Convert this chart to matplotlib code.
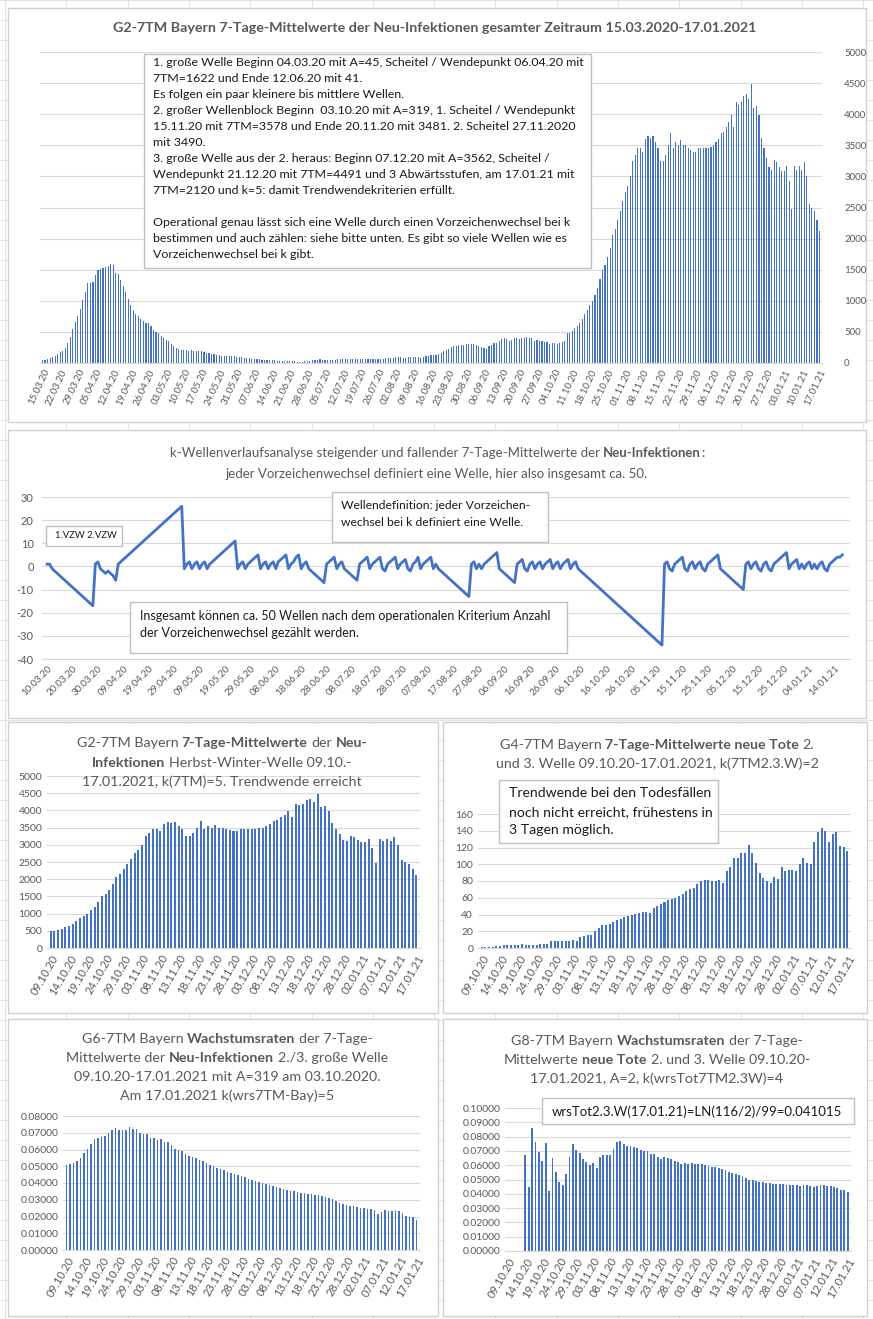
import numpy as np
import pandas as pd
import matplotlib
matplotlib.use('Agg')
import matplotlib.pyplot as plt
from matplotlib.patches import Rectangle
from matplotlib.lines import Line2D

# ---------------- Daten (aus dem Bild geschaetzt) ----------------
# 7-Tage-Mittelwerte Neu-Infektionen Bayern 15.03.2020 - 08.10.2020
neu_fruehjahr_sommer = [
    45, 55, 65, 80, 95, 115, 140, 170, 200, 240,
    320, 410, 550, 660, 750, 875, 1010, 1145, 1290, 1280,
    1305, 1410, 1490, 1515, 1530, 1550, 1560, 1597, 1570, 1450,
    1425, 1333, 1237, 1140, 1032, 940, 860, 795, 763, 700,
    672, 645, 645, 590, 538, 495, 484, 430, 403, 376,
    350, 300, 270, 240, 220, 215, 210, 205, 200, 205,
    200, 195, 190, 185, 170, 165, 160, 150, 140, 130,
    125, 120, 115, 110, 112, 110, 105, 100, 95, 92,
    88, 85, 80, 72, 68, 65, 60, 55, 50, 45,
    44, 42, 41, 40, 38, 35, 33, 30, 28, 27,
    25, 22, 18,
    15, 28, 39, 40, 42, 44, 56, 58, 45, 44,
    44, 46, 47, 48, 58, 58, 59, 60, 60, 61,
    62, 62, 63, 63, 64, 64, 65, 65, 66, 66,
    67, 68, 72, 83, 84, 85, 86, 100, 101, 102,
    75, 88, 90, 92, 100, 95, 93, 80, 100, 111,
    112, 122, 133, 135, 150, 167, 195, 211, 233, 261,
    278, 280, 289, 290, 292, 306, 307, 308, 306, 289,
    278, 261, 240, 233, 267, 289, 322, 325, 361, 378,
    400, 378, 361, 370, 400, 406, 389, 400, 402, 417,
    406, 400, 361, 362, 360, 358, 333, 330, 306, 317,
    319, 306, 317, 344, 361,
]
# 09.10.2020 - 17.01.2021
neu_herbst = [
    480, 490, 520, 560, 600, 650, 700, 780, 860, 930,
    1000, 1100, 1200, 1350, 1500, 1570, 1700, 1850, 2050, 2150,
    2300, 2450, 2600, 2750, 2850,
    3000, 3250, 3350, 3450, 3450, 3400, 3600, 3650, 3620, 3650,
    3550, 3450, 3250, 3250, 3350, 3500, 3700, 3450, 3550, 3500,
    3580, 3500, 3500, 3450, 3420, 3400, 3400, 3450, 3450, 3450,
    3460, 3450, 3480, 3500, 3550, 3600, 3700, 3720, 3800, 3870,
    3980, 3800, 4200, 4150, 4200, 4300, 4330, 4250, 4491,
    4100, 4130, 3980, 3620, 3450, 3300, 3150, 3100, 3270, 3230,
    3150, 3080, 3080, 3170, 2920, 2480, 3170, 3100, 3170, 3100,
    3230, 3000, 2550, 2500, 2450, 2300, 2120,
]
tote_herbst = [
    1.3, 1.3, 1.3, 1.3, 2, 2.5, 3, 3.5, 3.5, 3.5,
    3.5, 4.5, 4, 4, 3.5, 4, 4.5, 4.5, 5, 8,
    8, 8, 8, 8, 8, 9, 8.5, 13, 14, 15,
    16, 20, 24, 28, 28, 29, 31, 33, 35, 37,
    38, 40, 41, 42, 43, 43, 42,
    48, 50, 52, 55, 57, 58, 60, 62, 65, 68, 70, 72, 76, 80,
    81, 81, 80, 80, 81, 78, 92, 97, 108, 107,
    114, 113, 123, 114, 102, 90, 83, 80, 78, 85,
    82, 97, 92, 93, 93, 92, 100, 108, 101, 100,
    126, 138, 143, 140, 126, 136, 138, 122, 121, 116,
]
wrs_neu_herbst = [
    0.0510, 0.0512, 0.0520, 0.0530, 0.0550,
    0.0579, 0.0603, 0.0634, 0.0661, 0.0667, 0.0673, 0.0682, 0.0700, 0.0714, 0.0731,
    0.0718, 0.0716, 0.0714, 0.0737, 0.0724, 0.0724, 0.0700, 0.0690, 0.0690, 0.0667,
    0.0667, 0.0657, 0.0660, 0.0646, 0.0642, 0.0625, 0.0604, 0.0600, 0.0594, 0.0573,
    0.0562, 0.0556,
    0.0550, 0.0540, 0.0530, 0.0520, 0.0510, 0.0500, 0.0490, 0.0482, 0.0475, 0.0468,
    0.0460, 0.0452, 0.0445, 0.0440, 0.0433, 0.0425, 0.0418, 0.0412, 0.0405, 0.0400,
    0.0395, 0.0388, 0.0380, 0.0375, 0.0370, 0.0365, 0.0360, 0.0355, 0.0350, 0.0346,
    0.0342, 0.0338, 0.0335, 0.0332, 0.0330, 0.0327, 0.0323, 0.0318,
    0.0313, 0.0304, 0.0290, 0.0283, 0.0272, 0.0266, 0.0260, 0.0260, 0.0255, 0.0250,
    0.0249, 0.0243, 0.0243, 0.0236, 0.0217, 0.0226, 0.0240, 0.0234, 0.0234, 0.0230,
    0.0234, 0.0220, 0.0204, 0.0200, 0.0200, 0.0180,
]
wrs_tote_herbst = [
    np.nan, np.nan, np.nan, np.nan, np.nan,
    0.0671, 0.0450, 0.0862, 0.0762, 0.0689, 0.0629, 0.0756, 0.0420, 0.0650, 0.0550,
    0.0480, 0.0460, 0.0540, 0.0656, 0.0750, 0.0707, 0.0682, 0.0644, 0.0622, 0.0600,
    0.0616, 0.0580, 0.0660, 0.0669, 0.0669, 0.0671, 0.0716, 0.0762, 0.0771, 0.0750,
    0.0733, 0.0733, 0.0727, 0.0722, 0.0707, 0.0696, 0.0696, 0.0678, 0.0678, 0.0656,
    0.0644, 0.0656, 0.0651, 0.0644, 0.0627, 0.0622, 0.0611, 0.0618, 0.0611, 0.0618,
    0.0611, 0.0607, 0.0607, 0.0600, 0.0596,
    0.0590, 0.0585, 0.0580, 0.0570, 0.0565, 0.0555, 0.0548, 0.0540, 0.0530, 0.0520,
    0.0510, 0.0500, 0.0495, 0.0490, 0.0485, 0.0480, 0.0478, 0.0475, 0.0472, 0.0470,
    0.0468, 0.0466, 0.0465, 0.0463, 0.0462, 0.0460, 0.0458, 0.0460, 0.0462, 0.0455,
    0.0450, 0.0452, 0.0460, 0.0462, 0.0458, 0.0455, 0.0450, 0.0440, 0.0430, 0.0425,
    0.0410,
]
# k-Werte ab 10.03.2020
k_werte = [
    1, 1,
    -1, -2, -3, -4, -5, -6, -7, -8, -9, -10, -11, -12, -13, -14, -15, -16, -17,
    1, 2, -1, -2, -3, -2, -3, -4, -6,
    1, 2, 3, 4, 5, 6, 7, 8, 9, 10, 11, 12, 13, 14, 15, 16, 17, 18, 19, 20,
    21, 22, 23, 24, 25, 26,
    -1, 1, 2, -1, 1, 2, -1, 1, 2, -1,
    1, 2, 3, 4, 5, 6, 7, 8, 9, 10, 11,
    -1, 1, 2, -1, 1, 2, 3, 4, 5,
    -1, 1, 2, -1, 1, 2,
    -1, 2, 3, 4, 5,
    -1, 1, 2, 4, 5,
    -1, 1, 2,
    -1, -2, -3, -4, -5, -6, -7,
    1, 2, 3, 4, -1, 1, 2,
    -1, -2, -3, -4, -5, -6,
    1, 2, 3, 4, -1, 1, 2, 3, 4, -1, -2, 1, 2, 3, 4, -1, 1, 2, 3, -1,
    -2, 1, 2, 4, -1, 1, 2, 3, 4, -1, 1,
    -1, -2, -3, -4, -5, -6, -7, -8, -9, -10, -11, -12, -13,
    1, 2, -1, 1, -1,
    1, 2, 3, 4, 5, 6,
    -1, -2, -3, -4, -5, -6, -7,
    1, 2, 3, -1, -2, 1, 2, -1, 1, 2, -1, 1, 2, 3, -1, 1, 2, -1, 1, 2,
    3, -1, 1, 2,
    -1, -2, -3, -4, -5, -6, -7, -8, -9, -10, -11, -12, -13, -14, -15, -16, -17,
    -18, -19, -20, -21, -22, -23, -24, -25, -26, -27, -28, -29, -30, -31, -32,
    -33, -34,
    1, 2, -1, -2, 1, 2, 3, 4,
    -1, -2, 1, 2, -1, 1, 2, -1, -2, 1, 2, 3, 4, 5,
    -1, -2, -3, -4, -5, -6, -7, -8, -9, -10,
    1, 2, -1, 1, 2, -1, -2, 1, 2, -1, -2, 1, 2, 3, 4, 5, 6,
    -1, 1, 2, 3, -1, 1, -1, 1, 2, -1, 1, -1, 1, 2, -1, -2, 1, 2, 3, 4, 4, 5,
]

neu_gesamt = neu_fruehjahr_sommer + neu_herbst
tage_gesamt = pd.date_range('2020-03-15', periods=len(neu_gesamt)).strftime('%d.%m.%y')
tage_k = pd.date_range('2020-03-10', periods=len(k_werte)).strftime('%d.%m.%y')
tage_herbst = pd.date_range('2020-10-09', periods=len(neu_herbst)).strftime('%d.%m.%y')

# ---------------- Layout ----------------
W, H = 873, 1319
BLAU = '#4472C4'
GRAU = '#595959'
GITTER = '#D9D9D9'
plt.rcParams['font.family'] = ['Lato', 'DejaVu Sans']

fig = plt.figure(figsize=(W / 100, H / 100), dpi=100)
fig.patch.set_facecolor('white')


def achse(l, t, r, b):
    return fig.add_axes([l / W, 1 - b / H, (r - l) / W, (b - t) / H])


def kasten(l, t, r, b, farbe, z, lw=1.0):
    fig.add_artist(Rectangle((l / W, 1 - b / H), (r - l) / W, (b - t) / H,
                             transform=fig.transFigure, facecolor='white',
                             edgecolor=farbe, linewidth=lw, zorder=z))


def text(x, y, s, size, **kw):
    kw.setdefault('color', '#1a1a1a')
    kw.setdefault('va', 'center')
    fig.text(x / W, 1 - y / H, s, fontsize=size, **kw)


renderer = fig.canvas.get_renderer()


def breite(s, size, fw):
    if not s:
        return 0.0
    t1 = fig.text(0, 0, '|' + s + '|', fontsize=size, fontweight=fw)
    t2 = fig.text(0, 0, '||', fontsize=size, fontweight=fw)
    w = t1.get_window_extent(renderer).width - t2.get_window_extent(renderer).width
    t1.remove()
    t2.remove()
    return w


def zeile(cx, y, teile, size, farbe=GRAU):
    # eine zentrierte Titelzeile mit gemischt fett/normal
    stuecke = []
    pos = 0.0
    for s, fett in teile:
        fw = 'bold' if fett else 'normal'
        kern = s.strip(' ')
        vor = len(s) - len(s.lstrip(' '))
        nach = len(s) - len(s.rstrip(' '))
        sp = breite(' ', size, fw)
        stuecke.append((pos + vor * sp, kern, fw))
        pos += vor * sp + breite(kern, size, fw) + nach * sp
    x0 = cx - pos / 2
    for dx, kern, fw in stuecke:
        fig.text((x0 + dx) / W, 1 - y / H, kern, fontsize=size, fontweight=fw,
                 color=farbe, ha='left', va='baseline')


def stil(ax, ymax, step, fmt, size=7.5, ymin=0, pad=3.5):
    ticks = np.arange(ymin, ymax + step / 2, step)
    ax.set_ylim(ymin, ymax)
    ax.set_yticks(ticks)
    ax.set_yticklabels([fmt.format(t) for t in ticks])
    ax.grid(axis='y', color=GITTER, lw=0.8)
    ax.set_axisbelow(True)
    for s in ['top', 'right', 'left']:
        ax.spines[s].set_visible(False)
    ax.spines['bottom'].set_color(GITTER)
    ax.tick_params(length=0, colors=GRAU, labelsize=size)
    ax.tick_params(axis='y', pad=pad)


def xbeschriftung(ax, pos, labels, rot, size):
    ax.set_xticks(pos)
    ax.set_xticklabels(labels, rotation=rot, ha='right', rotation_mode='anchor',
                       fontsize=size, color=GRAU)


# Excel-Tabellengitter im Hintergrund
for i in range(16):
    fig.add_artist(Line2D([(5 + 61.3 * i) / W] * 2, [0, 1], transform=fig.transFigure,
                          color='#E3E3E3', lw=0.8, zorder=-3))
for i in range(67):
    fig.add_artist(Line2D([0, 1], [1 - 20 * i / H] * 2, transform=fig.transFigure,
                          color='#E3E3E3', lw=0.8, zorder=-3))

# Diagrammrahmen
for box in [(8, 8, 866, 422), (8, 430, 866, 718), (8, 722, 438, 1013),
            (443, 722, 867, 1013), (8, 1019, 438, 1316), (443, 1019, 867, 1316)]:
    kasten(*box, farbe='#D0D0D0', z=-1)

# ---------- G2 gesamter Zeitraum ----------
ax1 = achse(40, 52, 822, 363)
x1 = np.arange(len(neu_gesamt))
ax1.bar(x1, neu_gesamt, width=0.45, color=BLAU)
ax1.set_xlim(-1, len(neu_gesamt))
stil(ax1, 5000, 500, '{:.0f}', size=7, pad=16)
ax1.tick_params(axis='y', left=False, labelleft=False, right=False, labelright=True)
xbeschriftung(ax1, x1[::7], tage_gesamt[::7], 65, 7.0)

text(435, 28, 'G2-7TM Bayern 7-Tage-Mittelwerte der Neu-Infektionen gesamter Zeitraum 15.03.2020-17.01.2021',
     10.3, fontweight='bold', color=GRAU, ha='center')

kasten(144, 54, 591, 268, farbe='#BFBFBF', z=2)
box_zeilen = [
    '1. große Welle Beginn 04.03.20 mit A=45, Scheitel / Wendepunkt 06.04.20 mit',
    '7TM=1622 und Ende 12.06.20 mit 41.',
    'Es folgen ein paar kleinere bis mittlere Wellen.',
    '2. großer Wellenblock Beginn  03.10.20 mit A=319, 1. Scheitel / Wendepunkt',
    '15.11.20 mit 7TM=3578 und Ende 20.11.20 mit 3481. 2. Scheitel 27.11.2020',
    'mit 3490.',
    '3. große Welle aus der 2. heraus: Beginn 07.12.20 mit A=3562, Scheitel /',
    'Wendepunkt 21.12.20 mit 7TM=4491 und 3 Abwärtsstufen, am 17.01.21 mit',
    '7TM=2120 und k=5: damit Trendwendekriterien erfüllt.',
    '',
    'Operational genau lässt sich eine Welle durch einen Vorzeichenwechsel bei k',
    'bestimmen und auch zählen: siehe bitte unten. Es gibt so viele Wellen wie es',
    'Vorzeichenwechsel bei k gibt.',
]
for i, z in enumerate(box_zeilen):
    text(153, 62 + 16.0 * i, z, 8.9, zorder=3)

# ---------- k-Wellenverlaufsanalyse ----------
ax2 = achse(42, 497, 850, 659)
x2 = np.arange(len(k_werte))
ax2.plot(x2, k_werte, color=BLAU, lw=2.0)
ax2.set_xlim(-2, len(k_werte) + 2)
stil(ax2, 30, 10, '{:.0f}', size=8, ymin=-40, pad=6)
xbeschriftung(ax2, x2[::10], tage_k[::10], 45, 7.0)

zeile(437, 457, [('k-Wellenverlaufsanalyse steigender und fallender 7-Tage-Mittelwerte der ', False),
                 ('Neu-Infektionen', True), (':', False)], 9.5)
zeile(437, 478, [('jeder Vorzeichenwechsel definiert eine Welle, hier also insgesamt ca. 50.', False)], 9.5)

kasten(332, 492, 548, 542, farbe='#BFBFBF', z=2)
text(341, 506, 'Wellendefinition: jeder Vorzeichen-', 8.7, zorder=3)
text(341, 523, 'wechsel bei k definiert eine Welle.', 8.7, zorder=3)
kasten(46, 526, 122, 546, farbe='#BFBFBF', z=2)
text(55, 536, '1.VZW 2.VZW', 6.8, zorder=3)
kasten(130, 602, 567, 653, farbe='#BFBFBF', z=2)
text(140, 616, 'Insgesamt können ca. 50 Wellen nach dem operationalen Kriterium Anzahl', 9.0, zorder=3)
text(140, 633, 'der Vorzeichenwechsel gezählt werden.', 9.0, zorder=3)

xh = np.arange(len(neu_herbst))

# ---------- G2 Herbst-Winter-Welle ----------
ax3 = achse(47, 776, 420, 948)
ax3.bar(xh, neu_herbst, width=0.55, color=BLAU)
ax3.set_xlim(-1, len(neu_herbst))
stil(ax3, 5000, 500, '{:.0f}')
xbeschriftung(ax3, xh[::5], tage_herbst[::5], 60, 8.0)
zeile(222, 747, [('G2-7TM Bayern ', False), ('7-Tage-Mittelwerte', True), (' der ', False), ('Neu-', True)], 10.3)
zeile(222, 767, [('Infektionen', True), (' Herbst-Winter-Welle 09.10.-', False)], 10.3)
zeile(222, 786, [('17.01.2021, k(7TM)=5. Trendwende erreicht', False)], 10.3)

# ---------- G4 Tote ----------
ax4 = achse(478, 814, 851, 948)
ax4.bar(xh, tote_herbst, width=0.55, color=BLAU)
ax4.set_xlim(-1, len(tote_herbst))
stil(ax4, 160, 20, '{:.0f}')
xbeschriftung(ax4, xh[::5], tage_herbst[::5], 60, 8.0)
zeile(657, 749, [('G4-7TM Bayern ', False), ('7-Tage-Mittelwerte neue Tote', True), (' 2.', False)], 10.3)
zeile(657, 768, [('und 3. Welle 09.10.20-17.01.2021, k(7TM2.3.W)=2', False)], 10.3)
kasten(499, 780, 718, 843, farbe='#BFBFBF', z=2)
text(509, 793, 'Trendwende bei den Todesfällen', 10.1, zorder=3)
text(509, 812, 'noch nicht erreicht, frühestens in', 10.1, zorder=3)
text(509, 830, '3 Tagen möglich.', 10.1, zorder=3)

# ---------- G6 Wachstumsraten Neu-Infektionen ----------
ax5 = achse(63, 1116, 420, 1250)
ax5.bar(xh, wrs_neu_herbst, width=0.55, color=BLAU)
ax5.set_xlim(-1, len(wrs_neu_herbst))
stil(ax5, 0.08, 0.01, '{:.5f}')
xbeschriftung(ax5, xh[::5], tage_herbst[::5], 60, 8.0)
zeile(227, 1043, [('G6-7TM Bayern ', False), ('Wachstumsraten', True), (' der 7-Tage-', False)], 10.3)
zeile(227, 1062, [('Mittelwerte der ', False), ('Neu-Infektionen', True), (' 2./3. große Welle', False)], 10.3)
zeile(227, 1081, [('09.10.20-17.01.2021 mit A=319 am 03.10.2020.', False)], 10.3)
zeile(227, 1100, [('Am 17.01.2021 k(wrs7TM-Bay)=5', False)], 10.3)

# ---------- G8 Wachstumsraten Tote ----------
ax6 = achse(505, 1108, 851, 1251)
ax6.bar(xh, wrs_tote_herbst, width=0.55, color=BLAU)
ax6.set_xlim(-1, len(wrs_tote_herbst))
stil(ax6, 0.10, 0.01, '{:.5f}')
xbeschriftung(ax6, xh[::5], tage_herbst[::5], 60, 8.0)
zeile(657, 1045, [('G8-7TM Bayern ', False), ('Wachstumsraten', True), (' der 7-Tage-', False)], 10.3)
zeile(657, 1064, [('Mittelwerte ', False), ('neue Tote', True), (' 2. und 3. Welle 09.10.20-', False)], 10.3)
zeile(657, 1083, [('17.01.2021, A=2, k(wrsTot7TM2.3W)=4', False)], 10.3)
kasten(542, 1098, 854, 1124, farbe='#BFBFBF', z=2)
text(552, 1112, 'wrsTot2.3.W(17.01.21)=LN(116/2)/99=0.041015', 9.5, zorder=3)

fig.savefig('out.png', dpi=100)
